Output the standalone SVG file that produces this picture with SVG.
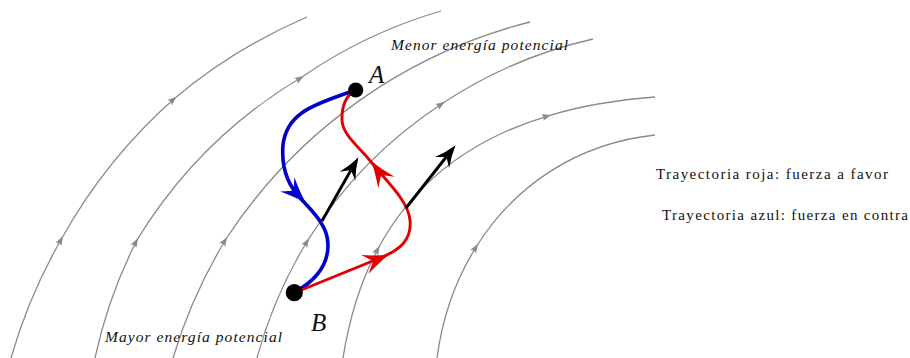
<svg xmlns="http://www.w3.org/2000/svg" width="910" height="358" viewBox="0 0 910 358">
<style>
.field{fill:none;stroke:#8a8a8a;stroke-width:1.3;marker-mid:url(#ga)}
.lbl{font-family:"Liberation Serif","DejaVu Serif",serif;fill:#111}
.it{font-style:italic}
.blue{fill:none;stroke:#0000c8;stroke-width:3.6;stroke-linecap:round}
.red{fill:none;stroke:#e00000;stroke-width:2.9;stroke-linecap:round}
.blk{fill:none;stroke:#000;stroke-width:2.9}
</style>
<defs>
<marker id="ga" viewBox="-10 -5 13 10" markerWidth="13" markerHeight="10" refX="0" refY="0" orient="auto" markerUnits="userSpaceOnUse">
<path d="M2,0 L-7,-3.4 Q-4.8,0 -7,3.4 Z" fill="#8a8a8a"/>
</marker>
<path id="stealth" d="M1,0 Q-11,-3.5 -25,-10 L-16,0 L-25,10 Q-11,3.5 1,0 Z"/>
<path id="stealthK" d="M1,0 Q-10,-3 -21,-9 L-14,0 L-21,9 Q-10,3 1,0 Z"/>
</defs>

<g id="field-lines">
<path class="field" d="M11,358 A531,531 0 0 1 62,238 A531,531 0 0 1 175,98 A531,531 0 0 1 307,17"/>
<path class="field" d="M95,358 A482,482 0 0 1 137,240 A482,482 0 0 1 302,77 A482,482 0 0 1 441,11"/>
<path class="field" d="M173,358 A513,513 0 0 1 226,239 A513,513 0 0 1 530,22"/>
<path class="field" d="M257,358 A453,453 0 0 1 308,240 A453,453 0 0 1 443,103 A453,453 0 0 1 593,39"/>
<path class="field" d="M343,358 C349.75,315.25 361.69,278.94 378.53,247.75 C414.24,181.63 472.01,138.54 549.14,115.52 C581.15,105.96 616.5,99.86 655,97"/>
<path class="field" d="M437,358 C442.6,316.05 456.29,278.05 476.92,245.75 C515.06,185.27 577,143.45 655,135"/>
</g>

<g id="labels-energy">
<text class="lbl it" x="391" y="50" font-size="15.5" textLength="177" lengthAdjust="spacing">Menor energía potencial</text>
<text class="lbl it" x="105" y="341.5" font-size="15.5" textLength="177" lengthAdjust="spacing">Mayor energía potencial</text>
</g>

<g id="connectors">
<g id="blue-path">
<path class="blue" d="M355,90 C322,103 287,109 283,145 C281,169 288,186 302,200 C315,214 328,227 328,245 C328,269 311,283 294,293"/>
<use href="#stealth" fill="#0000c8" transform="translate(305,202) rotate(45)"/>
</g>
<g id="red-path">
<path class="red" d="M294,293 L380,258 C400,250 412,240 410,220 C408,200 385,180 372,163 C361,148 341,135 342,118 C342,106 346,96 355,90"/>
<use href="#stealth" fill="#e00000" transform="translate(388,255) rotate(-22)"/>
<use href="#stealth" fill="#e00000" transform="translate(372,162) rotate(-125)"/>
</g>
<g id="force-1">
<path class="blk" d="M322,221 L351,170"/>
<use href="#stealthK" fill="#000" transform="translate(358,158) rotate(-60)"/>
</g>
<g id="force-2">
<path class="blk" d="M406,208 L447,156"/>
<use href="#stealthK" fill="#000" transform="translate(455,146) rotate(-52)"/>
</g>
</g>

<g id="node-A">
<circle cx="355.7" cy="90" r="7.6" fill="#000"/>
<text class="lbl it" x="369" y="82.5" font-size="25">A</text>
</g>
<g id="node-B">
<circle cx="294.3" cy="292.7" r="8.6" fill="#000"/>
<text class="lbl it" x="311" y="331" font-size="25">B</text>
</g>

<g id="legend">
<text class="lbl" x="656" y="178.5" font-size="15" textLength="232" lengthAdjust="spacing">Trayectoria roja: fuerza a favor</text>
<text class="lbl" x="662" y="220" font-size="15" textLength="246" lengthAdjust="spacing">Trayectoria azul: fuerza en contra</text>
</g>
</svg>
